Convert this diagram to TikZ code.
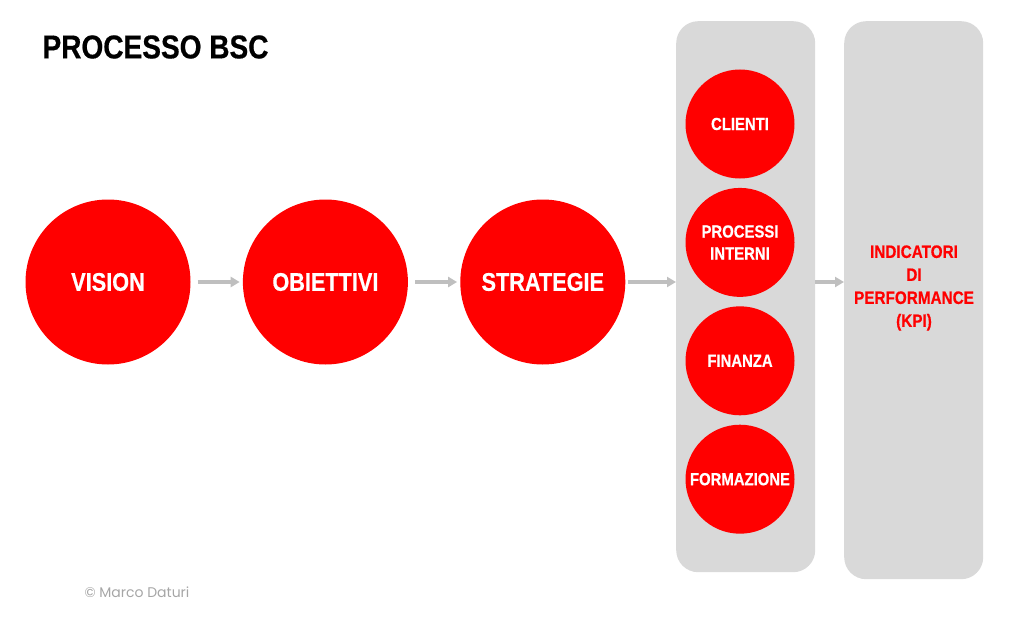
\documentclass[tikz,border=0pt]{standalone}
\usepackage{fontspec}
\usepackage{xcolor}
\usepackage{tikz}
\usetikzlibrary{arrows.meta,positioning}
\setmainfont{Liberation Sans}
\newfontfamily\condfont[FakeStretch=0.85,FakeBold=0.5]{Liberation Sans Bold}
\newfontfamily\notefont{Poppins}
\definecolor{bscred}{HTML}{FF0000}
\definecolor{panelgray}{HTML}{D9D9D9}
\definecolor{arrowgray}{HTML}{BFBFBF}
\definecolor{notegray}{HTML}{A6A6A6}

\begin{document}
\begin{tikzpicture}[
  x=1pt,y=-1pt,
  node distance=52pt,
  bigcircle/.style={circle,fill=bscred,inner sep=0pt,minimum size=165pt,
    text=white,font=\condfont\fontsize{25.5}{30}\selectfont},
  smallcircle/.style={circle,fill=bscred,inner sep=0pt,minimum size=109pt,align=center,
    text=white,font=\condfont\fontsize{17.5}{22}\selectfont},
  panel/.style={fill=panelgray,rounded corners=22pt,inner sep=0pt,minimum width=139pt},
  line/.style={-{Triangle[length=9pt,width=10pt]},line width=3.5pt,draw=arrowgray}
]
\useasboundingbox (0,0) rectangle (1030,623);
% colonne grigie
\node[panel,minimum height=551pt,anchor=north west] (perspettive) at (676,21) {};
\node[panel,minimum height=558pt,anchor=north west] (kpibox) at (844,21) {};
% percorso principale
\node[bigcircle] (vision) at (108,282) {VISION};
\node[bigcircle,right=of vision] (obiettivi) {OBIETTIVI};
\node[bigcircle,right=of obiettivi] (strategie) {STRATEGIE};
% prospettive
\node[smallcircle] (clienti) at (740,124) {CLIENTI};
\node[smallcircle,below=9pt of clienti] (processi) {PROCESSI\\INTERNI};
\node[smallcircle,below=9pt of processi] (finanza) {FINANZA};
\node[smallcircle,below=9pt of finanza] (formazione) {FORMAZIONE};
\node[align=center,text=bscred,font=\condfont\fontsize{18}{23}\selectfont]
  (kpi) at (914,288) {INDICATORI\\DI\\PERFORMANCE\\(KPI)};
% titolo e nota
\node[anchor=west,font=\condfont\fontsize{33}{36}\selectfont] (titolo) at (39,47) {PROCESSO BSC};
\node[anchor=west,text=notegray,font=\notefont\fontsize{14}{16}\selectfont] (nota) at (81,592) {© Marco Daturi};
\draw[line,shorten <=7pt,shorten >=3pt] (vision)--(obiettivi);
\draw[line,shorten <=7pt,shorten >=3pt] (obiettivi)--(strategie);
\draw[line,shorten <=2pt] (strategie.east)--(perspettive.west|-strategie.east);
\draw[line] (perspettive.east|-strategie)--(kpibox.west|-strategie);
\end{tikzpicture}
\end{document}
